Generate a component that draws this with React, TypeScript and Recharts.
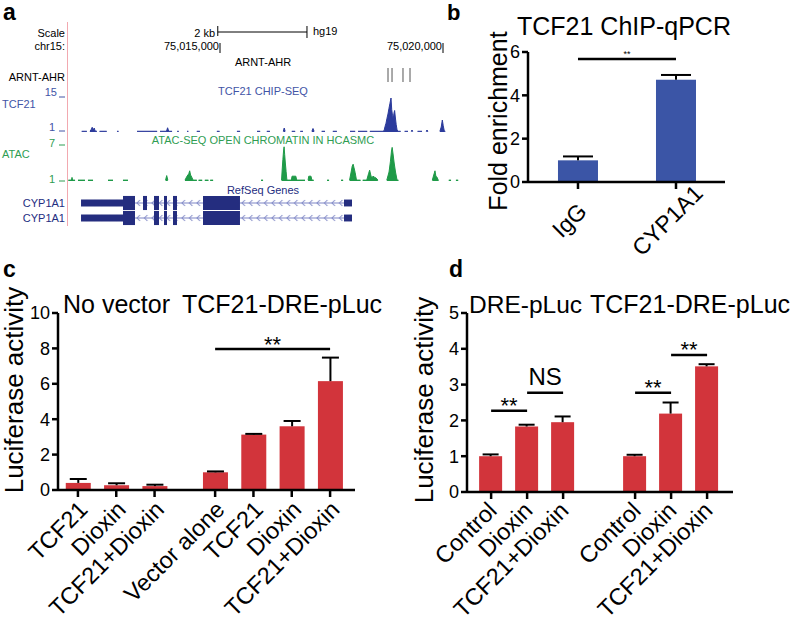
import React from 'react';
import {
  ComposedChart,
  AreaChart,
  Area,
  BarChart,
  Bar,
  XAxis,
  YAxis,
  ReferenceLine,
  ReferenceArea,
} from 'recharts';

const W = 794;
const H = 623;
const FONT = '"Liberation Sans", Arial, Helvetica, sans-serif';

const RED = '#d2343b';
const BLUE = '#3b55a6';
const UCSC_BLUE = '#2c3b9c';
const UCSC_BLUE_TXT = '#4254a6';
const UCSC_GREEN = '#1f9a48';
const UCSC_GREEN_TXT = '#2f9d52';
const UCSC_NAVY = '#242d7f';
const INTRON = '#7b84c4';

// ---------- panel a: UCSC view of chr15 (hg19) ----------
const VIEW: [number, number] = [75011592, 75020381];
const RULER_TICKS = [75015000, 75020000];
const SCALE_BAR: [number, number] = [75014950, 75016950];
const ARNT_AHR_SITES = [75018767, 75018857, 75019103, 75019260];

// [position, signal]; null = no coverage
const TCF21_CHIP: [number, number | null][] = [
  [75011900, 1.3], [75012015, 1.3], [75012016, null],
  [75012085, 1.3], [75012115, 2.1], [75012135, 2.9], [75012155, 1.7], [75012180, 2.6], [75012200, 1.4], [75012240, 1.3], [75012241, null],
  [75012300, 1.3], [75012460, 1.3], [75012461, null],
  [75012690, 1.3], [75012725, 1.3], [75012726, null],
  [75013140, 1.3], [75013590, 1.3], [75013591, null],
  [75013655, 1.3], [75013800, 1.3], [75013825, 2.7], [75013850, 1.3], [75013925, 1.3], [75013926, null],
  [75014040, 1.3], [75014075, 1.3], [75014076, null],
  [75014260, 1.3], [75014290, 1.3], [75014291, null],
  [75014480, 1.3], [75014550, 1.3], [75014551, null],
  [75014930, 1.3], [75014990, 1.3], [75014991, null],
  [75015380, 1.3], [75015450, 1.3], [75015451, null],
  [75015830, 1.3], [75015900, 1.3], [75015901, null],
  [75016050, 1.3], [75016120, 1.3], [75016121, null],
  [75016420, 1.3], [75016440, 2.6], [75016460, 1.3], [75016461, null],
  [75016610, 1.3], [75016685, 1.3], [75016686, null],
  [75016800, 1.3], [75016860, 1.3], [75016861, null],
  [75017060, 1.3], [75017085, 2.4], [75017110, 1.3], [75017111, null],
  [75017280, 1.3], [75017355, 1.3], [75017356, null],
  [75017530, 1.3], [75017620, 1.3], [75017621, null],
  [75017915, 1.3], [75018030, 1.3], [75018031, null],
  [75018095, 1.3], [75018300, 1.3], [75018301, null],
  [75018360, 1.3], [75018654, 1.3], [75018680, 1.6], [75018700, 3.2], [75018722, 4.5], [75018744, 6.5],
  [75018766, 8.2], [75018789, 10.5], [75018811, 12.5], [75018834, 14.6], [75018850, 10], [75018868, 7.5],
  [75018885, 6.2], [75018900, 8.5], [75018915, 9.6], [75018930, 7.0], [75018950, 4], [75018970, 1.8],
  [75018990, 1.3], [75019050, 1.3], [75019051, null],
  [75019140, 1.3], [75019215, 1.3], [75019216, null],
  [75019290, 1.3], [75019305, 1.8], [75019320, 1.3], [75019321, null],
  [75019430, 1.3], [75019530, 1.3], [75019531, null],
  [75019625, 1.3], [75019641, 1.8], [75019660, 1.3], [75019661, null],
  [75019930, 1.3], [75019960, 3.0], [75019985, 5.8], [75020005, 3.5], [75020030, 1.3], [75020050, 1.3],
];

const ATAC_SIGNAL: [number, number | null][] = [
  [75011600, 1.15], [75011670, 1.15], [75011682, 1.6], [75011695, 1.15], [75011750, 1.15], [75011751, null],
  [75011816, 1.15], [75011973, 1.15], [75011974, null],
  [75012040, 1.15], [75012153, 1.15], [75012154, null],
  [75012489, 1.15], [75012601, 1.15], [75012602, null],
  [75012825, 1.15], [75012937, 1.15], [75012938, null],
  [75013780, 1.15], [75013805, 1.9], [75013830, 1.15], [75013831, null],
  [75014215, 1.15], [75014260, 1.8], [75014300, 2.2], [75014320, 2.7], [75014340, 2.0], [75014370, 1.6], [75014395, 1.15], [75014480, 1.15], [75014481, null],
  [75014520, 1.15], [75014600, 1.15], [75014601, null],
  [75014660, 1.15], [75014740, 1.15], [75014741, null],
  [75014780, 1.15], [75014845, 1.15], [75014846, null],
  [75015920, 1.15], [75015965, 1.15], [75015966, null],
  [75016380, 1.15], [75016395, 3.0], [75016410, 4.6], [75016425, 6.0], [75016437, 6.7], [75016450, 5.4], [75016465, 4.0], [75016482, 2.6],
  [75016500, 1.15], [75016600, 1.15], [75016615, 1.8], [75016700, 1.8], [75016720, 1.15], [75016906, 1.15], [75016907, null],
  [75016975, 1.15], [75016990, 1.8], [75017040, 1.8], [75017060, 1.15], [75017100, 1.15], [75017101, null],
  [75017400, 1.15], [75017445, 1.15], [75017446, null],
  [75017715, 1.15], [75017760, 1.15], [75017761, null],
  [75017905, 1.15], [75017940, 2.5], [75017965, 3.5], [75017985, 3.8], [75018005, 3.2], [75018030, 2.4], [75018060, 1.15], [75018150, 1.15], [75018151, null],
  [75018200, 1.15], [75018290, 1.15], [75018330, 2.2], [75018355, 2.8], [75018380, 2.0], [75018400, 1.5], [75018430, 1.8], [75018470, 1.6], [75018500, 1.5], [75018540, 1.15], [75018541, null],
  [75018740, 1.15], [75018790, 2.5], [75018820, 4.2], [75018845, 6.0], [75018860, 6.6], [75018880, 5.5], [75018905, 4.0], [75018935, 2.5], [75018970, 1.15], [75019000, 1.15], [75019001, null],
  [75019760, 1.15], [75019800, 2.2], [75019820, 2.7], [75019840, 1.8], [75019870, 1.6], [75019890, 1.15], [75019900, 1.15], [75019901, null],
  [75020130, 1.15], [75020180, 1.15], [75020181, null],
  [75020290, 1.15], [75020340, 1.15],
];

// exons [start, end, coding]
const CYP1A1_TX1: [number, number, boolean][] = [
  [75011884, 75012825, false],
  [75012825, 75013094, true],
  [75013274, 75013363, true],
  [75013520, 75013632, true],
  [75013744, 75013812, true],
  [75013946, 75014036, true],
  [75014619, 75015448, true],
  [75017780, 75017960, false],
];
const CYP1A1_TX2: [number, number, boolean][] = [
  [75011884, 75012825, false],
  [75012825, 75013094, true],
  [75013520, 75013632, true],
  [75013744, 75013812, true],
  [75013946, 75014036, true],
  [75014619, 75015448, true],
  [75017780, 75017960, false],
];

// ---------- panel b ----------
const CHIP_LABELS = ['IgG', 'CYP1A1'];
const CHIP_GROUP = [0, 0];
const CHIP_FOLD = [1.0, 4.72];
const CHIP_SEM = [0.18, 0.22];

// ---------- panel c ----------
const LUC_C_LABELS = ['TCF21', 'Dioxin', 'TCF21+Dioxin', 'Vector alone', 'TCF21', 'Dioxin', 'TCF21+Dioxin'];
const LUC_C_GROUP = [0, 0, 0, 1, 1, 1, 1];
const LUC_C_VALUES = [0.4, 0.27, 0.22, 1.0, 3.13, 3.6, 6.15];
const LUC_C_SEM = [0.22, 0.11, 0.08, 0.05, 0.04, 0.3, 1.33];

// ---------- panel d ----------
const LUC_D_LABELS = ['Control', 'Dioxin', 'TCF21+Dioxin', 'Control', 'Dioxin', 'TCF21+Dioxin'];
const LUC_D_GROUP = [0, 0, 0, 1, 1, 1];
const LUC_D_VALUES = [1.0, 1.83, 1.95, 1.0, 2.19, 3.51];
const LUC_D_SEM = [0.05, 0.05, 0.16, 0.04, 0.31, 0.06];

type Sig = { from: number; to: number; y: number; text: string };
const SIG_B: Sig[] = [{ from: 0, to: 1, y: 5.68, text: '**' }];
const SIG_C: Sig[] = [{ from: 3, to: 6, y: 7.97, text: '**' }];
const SIG_D: Sig[] = [
  { from: 0, to: 1, y: 2.27, text: '**' },
  { from: 1, to: 2, y: 2.77, text: 'NS' },
  { from: 3, to: 4, y: 2.77, text: '**' },
  { from: 4, to: 5, y: 3.83, text: '**' },
];

const Layer: React.FC<{ children: React.ReactNode }> = ({ children }) => (
  <div style={{ position: 'absolute', left: 0, top: 0 }}>{children}</div>
);

const trackMargin = (top: number, bottom: number) => ({ top, bottom: H - bottom, left: 68, right: W - 460 });
const toRows = (pts: [number, number | null][]) => pts.map(([pos, v]) => ({ pos, v }));

const RulerTick = (p: any) => {
  const { x, y, payload } = p;
  return (
    <g>
      <line x1={x} x2={x} y1={y - 10} y2={y} stroke="#000" strokeWidth={1} />
      <text x={x - 1} y={y - 3} textAnchor="end" fontSize={11} fontFamily={FONT} fill="#000">
        {Number(payload.value).toLocaleString('en-US')}
      </text>
    </g>
  );
};

const Ruler = () => (
  <ComposedChart width={W} height={H} data={RULER_TICKS.map((pos) => ({ pos }))}
    margin={{ top: 25, bottom: H - 53 - 1, left: 68, right: W - 460 }}>
    <XAxis type="number" dataKey="pos" domain={VIEW} ticks={RULER_TICKS} interval={0} height={1}
      axisLine={false} tickLine={false} tickSize={0} tickMargin={0} tick={RulerTick} allowDataOverflow />
    <YAxis type="number" domain={[0, 28]} hide allowDataOverflow />
    <ReferenceLine segment={[{ x: SCALE_BAR[0], y: 21 }, { x: SCALE_BAR[1], y: 21 }]} stroke="#000" strokeWidth={1} />
    <ReferenceLine segment={[{ x: SCALE_BAR[0], y: 27 }, { x: SCALE_BAR[0], y: 17 }]} stroke="#000" strokeWidth={1} />
    <ReferenceLine segment={[{ x: SCALE_BAR[1], y: 27 }, { x: SCALE_BAR[1], y: 15 }]} stroke="#000" strokeWidth={1} />
  </ComposedChart>
);

const MotifTrack = () => (
  <ComposedChart width={W} height={H} data={ARNT_AHR_SITES.map((pos) => ({ pos }))} margin={trackMargin(68, 82)}>
    <XAxis type="number" dataKey="pos" domain={VIEW} hide allowDataOverflow />
    <YAxis type="number" domain={[0, 1]} hide allowDataOverflow />
    {ARNT_AHR_SITES.map((s) => (
      <ReferenceLine key={s} x={s} stroke="#555" strokeWidth={1} />
    ))}
  </ComposedChart>
);

const SignalTrack: React.FC<{ pts: [number, number | null][]; max: number; top: number; bottom: number; color: string }> = ({
  pts, max, top, bottom, color,
}) => (
  <AreaChart width={W} height={H} data={toRows(pts)} margin={trackMargin(top, bottom)}>
    <XAxis type="number" dataKey="pos" domain={VIEW} hide allowDataOverflow />
    <YAxis type="number" domain={[1, max]} hide allowDataOverflow />
    <Area dataKey="v" type="linear" stroke={color} strokeWidth={1} fill={color} fillOpacity={1}
      dot={false} activeDot={false} isAnimationActive={false} />
  </AreaChart>
);

const GeneTrack = () => {
  const rows: [number, [number, number, boolean][]][] = [[1.5, CYP1A1_TX1], [0.5, CYP1A1_TX2]];
  return (
    <ComposedChart width={W} height={H} data={CYP1A1_TX1.map(([s]) => ({ pos: s }))} margin={trackMargin(195.5, 225.5)}>
      <XAxis type="number" dataKey="pos" domain={VIEW} hide allowDataOverflow />
      <YAxis type="number" domain={[0, 2]} hide allowDataOverflow />
      {rows.map(([row, exons]) => (
        <ReferenceArea key={`i${row}`} x1={exons[0][0]} x2={exons[exons.length - 1][1]} y1={row - 0.3} y2={row + 0.3}
          fill="url(#intronChevrons)" fillOpacity={1} stroke="none" />
      ))}
      {rows.map(([row, exons]) =>
        exons.map(([s, e, cds]) => (
          <ReferenceArea key={`${row}-${s}`} x1={s} x2={e} y1={row - (cds ? 0.47 : 0.23)} y2={row + (cds ? 0.47 : 0.23)}
            fill={UCSC_NAVY} fillOpacity={1} stroke="none" />
        )),
      )}
    </ComposedChart>
  );
};

// ---------- GraphPad-style bar panels ----------
type Plot = { left: number; top: number; right: number; bottom: number };
const Y_AXIS_W = 58;
const X_AXIS_H = 30;

const barShape = (color: string, capHalf: number) => (p: any) => {
  const { x, y, width, height, payload } = p;
  const perUnit = payload.value ? height / payload.value : 0;
  const top = y - payload.sem * perUnit;
  const cx = x + width / 2;
  return (
    <g>
      <rect x={x} y={y} width={width} height={height} fill={color} />
      <line x1={cx} x2={cx} y1={y} y2={top} stroke="#000" strokeWidth={2} />
      <line x1={cx - capHalf} x2={cx + capHalf} y1={top} y2={top} stroke="#000" strokeWidth={2} />
    </g>
  );
};

const slantTick = (labels: string[], pos: number[], size: number, dx: number, dy: number, anchor: 'end' | 'middle') =>
  (p: any) => {
    const { x, y, payload } = p;
    const i = pos.indexOf(payload.value);
    const ax = x + dx;
    const ay = y + dy;
    return (
      <text x={ax} y={ay} transform={`rotate(-45 ${ax} ${ay})`} textAnchor={anchor} fontSize={size} fontFamily={FONT} fill="#000">
        {labels[i]}
      </text>
    );
  };

const GraphPadBars: React.FC<{
  labels: string[]; groups: number[]; values: number[]; sem: number[];
  groupGap: number; pad: [number, number]; yTicks: number[]; plot: Plot;
  color: string; barSize: number; capHalf: number;
  labelSize: number; labelShift: [number, number]; labelAnchor: 'end' | 'middle'; tickSize: number;
  sig: Sig[]; sigStyle: Record<string, { size: number; lift: number }>;
}> = (pr) => {
  const pos = pr.labels.map((_, i) => i + pr.groups[i] * pr.groupGap);
  const rows = pos.map((p, i) => ({ pos: p, value: pr.values[i], sem: pr.sem[i] }));
  const { plot } = pr;
  const axisStyle = { stroke: '#000', strokeWidth: 2.5 };
  return (
    <BarChart width={W} height={H} data={rows}
      margin={{ top: plot.top, left: plot.left - Y_AXIS_W, right: W - plot.right, bottom: H - plot.bottom - X_AXIS_H }}>
      <XAxis type="number" dataKey="pos" domain={[pos[0] - pr.pad[0], pos[pos.length - 1] + pr.pad[1]]}
        ticks={pos} interval={0} height={X_AXIS_H} axisLine={axisStyle} tickLine={axisStyle} tickSize={7} tickMargin={2}
        tick={slantTick(pr.labels, pos, pr.labelSize, pr.labelShift[0], pr.labelShift[1], pr.labelAnchor)} allowDataOverflow />
      <YAxis type="number" domain={[0, pr.yTicks[pr.yTicks.length - 1]]} ticks={pr.yTicks} interval={0} width={Y_AXIS_W}
        axisLine={axisStyle} tickLine={axisStyle} tickSize={6} tickMargin={2} allowDataOverflow
        tick={{ fill: '#000', fontSize: pr.tickSize, fontFamily: FONT }} />
      <Bar dataKey="value" barSize={pr.barSize} shape={barShape(pr.color, pr.capHalf)} isAnimationActive={false} />
      {pr.sig.map((s) => {
        const st = pr.sigStyle[s.text];
        return (
          <ReferenceLine key={`${s.from}-${s.to}`} segment={[{ x: pos[s.from], y: s.y }, { x: pos[s.to], y: s.y }]}
            stroke="#000" strokeWidth={2.5}
            label={{ value: s.text, position: 'top', offset: st.lift, fontSize: st.size, fill: '#000', fontFamily: FONT }} />
        );
      })}
    </BarChart>
  );
};

type T = { t: string; x: number; y: number; size?: number; anchor?: 'start' | 'middle' | 'end'; fill?: string; bold?: boolean; rot?: number };
const TEXTS: T[] = [
  { t: 'a', x: 3, y: 20, size: 23, bold: true },
  { t: 'b', x: 447, y: 20, size: 22, bold: true },
  { t: 'c', x: 3, y: 277, size: 23, bold: true },
  { t: 'd', x: 449, y: 277, size: 23, bold: true },
  { t: 'Scale', x: 65, y: 37, size: 11, anchor: 'end' },
  { t: 'chr15:', x: 65, y: 50, size: 11, anchor: 'end' },
  { t: '2 kb', x: 215, y: 37, size: 11, anchor: 'end' },
  { t: 'hg19', x: 313, y: 35, size: 11 },
  { t: 'ARNT-AHR', x: 263, y: 66, size: 11, anchor: 'middle' },
  { t: 'ARNT-AHR', x: 65, y: 81, size: 11, anchor: 'end' },
  { t: '15', x: 57, y: 96, size: 11, anchor: 'end', fill: UCSC_BLUE_TXT },
  { t: 'TCF21', x: 2, y: 108, size: 11, fill: UCSC_BLUE_TXT },
  { t: 'TCF21 CHIP-SEQ', x: 263, y: 95, size: 11, anchor: 'middle', fill: UCSC_BLUE_TXT },
  { t: '1', x: 55, y: 131, size: 11, anchor: 'end', fill: UCSC_BLUE_TXT },
  { t: '7', x: 55, y: 147, size: 11, anchor: 'end', fill: UCSC_GREEN_TXT },
  { t: 'ATAC', x: 2, y: 158, size: 11, fill: UCSC_GREEN_TXT },
  { t: 'ATAC-SEQ OPEN CHROMATIN IN HCASMC', x: 263, y: 144, size: 11, anchor: 'middle', fill: UCSC_GREEN_TXT },
  { t: '1', x: 55, y: 183, size: 11, anchor: 'end', fill: UCSC_GREEN_TXT },
  { t: 'RefSeq Genes', x: 263, y: 194, size: 11, anchor: 'middle', fill: UCSC_NAVY },
  { t: 'CYP1A1', x: 65, y: 207, size: 11, anchor: 'end', fill: UCSC_NAVY },
  { t: 'CYP1A1', x: 65, y: 222, size: 11, anchor: 'end', fill: UCSC_NAVY },
  { t: 'TCF21 ChIP-qPCR', x: 517, y: 35, size: 25 },
  { t: 'Fold enrichment', x: 507, y: 121, size: 25, anchor: 'middle', rot: -90 },
  { t: 'No vector', x: 63, y: 313, size: 25 },
  { t: 'TCF21-DRE-pLuc', x: 182, y: 313, size: 25 },
  { t: 'Luciferase activity', x: 23, y: 390, size: 26, anchor: 'middle', rot: -90 },
  { t: 'DRE-pLuc', x: 469, y: 313, size: 24.5 },
  { t: 'TCF21-DRE-pLuc', x: 590, y: 313, size: 25 },
  { t: 'Luciferase activity', x: 433, y: 400, size: 26, anchor: 'middle', rot: -90 },
];

const TRACK_TICKS: [number, string][] = [[97, UCSC_BLUE_TXT], [131, UCSC_BLUE_TXT], [145, UCSC_GREEN_TXT], [181, UCSC_GREEN_TXT]];

const Overlay = () => (
  <svg width={W} height={H} style={{ position: 'absolute', left: 0, top: 0 }}>
    <defs>
      <pattern id="intronChevrons" patternUnits="userSpaceOnUse" width={7.5} height={15}>
        <line x1={0} x2={7.5} y1={8} y2={8} stroke={INTRON} strokeWidth={1} />
        <polyline points="5,5 2,8 5,11" fill="none" stroke={INTRON} strokeWidth={1} />
      </pattern>
    </defs>
    <line x1={67.5} x2={67.5} y1={22} y2={226} stroke="#f2a9b0" strokeWidth={1} />
    {TRACK_TICKS.map(([y, c]) => (
      <line key={y} x1={59} x2={65} y1={y} y2={y} stroke={c} strokeWidth={1} />
    ))}
    {TEXTS.map((d, i) => (
      <text key={i} x={d.x} y={d.y} fontSize={d.size ?? 11} fontFamily={FONT} fill={d.fill ?? '#000'}
        fontWeight={d.bold ? 700 : 400} textAnchor={d.anchor ?? 'start'}
        transform={d.rot ? `rotate(${d.rot} ${d.x} ${d.y})` : undefined}>
        {d.t}
      </text>
    ))}
  </svg>
);

export default function App() {
  return (
    <div style={{ position: 'absolute', left: 0, top: 0, width: W, height: H, background: '#fff', overflow: 'hidden', fontFamily: FONT }}>
      <Overlay />
      <Layer><Ruler /></Layer>
      <Layer><MotifTrack /></Layer>
      <Layer><SignalTrack pts={TCF21_CHIP} max={15} top={97} bottom={132} color={UCSC_BLUE} /></Layer>
      <Layer><SignalTrack pts={ATAC_SIGNAL} max={7} top={145} bottom={181} color={UCSC_GREEN} /></Layer>
      <Layer><GeneTrack /></Layer>
      <Layer>
        <GraphPadBars labels={CHIP_LABELS} groups={CHIP_GROUP} values={CHIP_FOLD} sem={CHIP_SEM}
          groupGap={0} pad={[0.51, 0.5]} yTicks={[0, 2, 4, 6]} plot={{ left: 528, top: 52, right: 725, bottom: 182 }}
          color={BLUE} barSize={40} capHalf={15} labelSize={23} labelShift={[-3, 35]} labelAnchor="middle" tickSize={18}
          sig={SIG_B} sigStyle={{ '**': { size: 9, lift: 2 } }} />
      </Layer>
      <Layer>
        <GraphPadBars labels={LUC_C_LABELS} groups={LUC_C_GROUP} values={LUC_C_VALUES} sem={LUC_C_SEM}
          groupGap={0.58} pad={[0.52, 0.65]} yTicks={[0, 2, 4, 6, 8, 10]} plot={{ left: 58, top: 313, right: 355, bottom: 490 }}
          color={RED} barSize={25} capHalf={8.5} labelSize={23.5} labelShift={[11, 12]} labelAnchor="end" tickSize={18}
          sig={SIG_C} sigStyle={{ '**': { size: 22, lift: -3 } }} />
      </Layer>
      <Layer>
        <GraphPadBars labels={LUC_D_LABELS} groups={LUC_D_GROUP} values={LUC_D_VALUES} sem={LUC_D_SEM}
          groupGap={1} pad={[0.67, 0.72]} yTicks={[0, 1, 2, 3, 4, 5]} plot={{ left: 467, top: 313, right: 733, bottom: 492 }}
          color={RED} barSize={23} capHalf={8} labelSize={23.5} labelShift={[7, 11]} labelAnchor="end" tickSize={18}
          sig={SIG_D} sigStyle={{ '**': { size: 22, lift: -2.5 }, NS: { size: 24, lift: 8 } }} />
      </Layer>
    </div>
  );
}
